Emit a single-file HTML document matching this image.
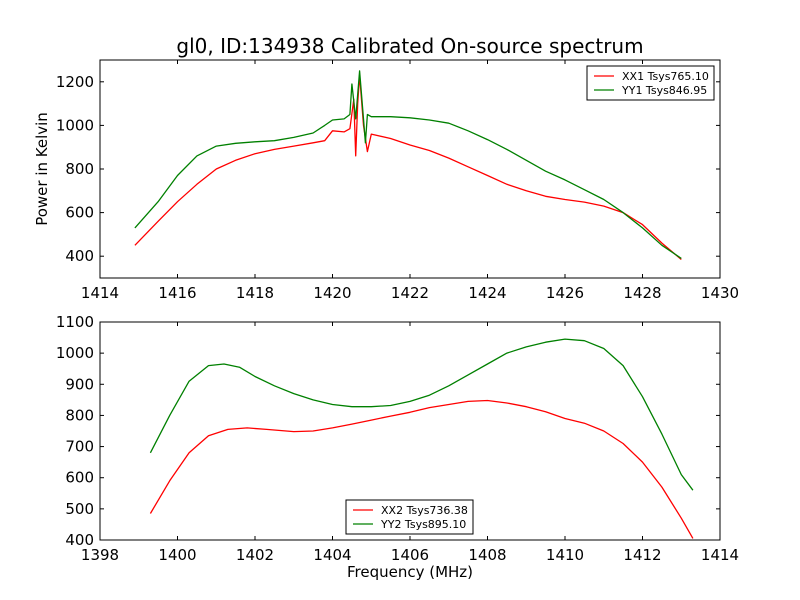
<!DOCTYPE html>
<html><head><meta charset="utf-8"><style>
body{margin:0;background:#fff}
svg{display:block;font-family:"DejaVu Sans","Liberation Sans",sans-serif}
</style></head><body>
<svg id="c" width="800" height="600"></svg>
<script>
const topXX=[[1414.9,450],[1415.5,560],[1416,650],[1416.5,730],[1417,800],[1417.5,840],[1418,870],[1418.5,890],[1419,905],[1419.5,920],[1419.8,930],[1420,975],[1420.3,970],[1420.45,985],[1420.55,1120],[1420.6,860],[1420.65,1100],[1420.7,1230],[1420.8,1000],[1420.9,880],[1421,960],[1421.5,940],[1422,910],[1422.5,885],[1423,850],[1423.5,810],[1424,770],[1424.5,730],[1425,700],[1425.5,675],[1426,660],[1426.5,648],[1427,630],[1427.5,600],[1428,545],[1428.5,460],[1429,385]];
const topYY=[[1414.9,530],[1415.5,650],[1416,770],[1416.5,860],[1417,905],[1417.5,918],[1418,925],[1418.5,930],[1419,945],[1419.5,965],[1419.8,1000],[1420,1025],[1420.3,1030],[1420.45,1050],[1420.5,1190],[1420.6,1030],[1420.7,1250],[1420.8,1030],[1420.85,920],[1420.9,1050],[1421,1040],[1421.5,1040],[1422,1035],[1422.5,1025],[1423,1010],[1423.5,975],[1424,935],[1424.5,890],[1425,840],[1425.5,790],[1426,750],[1426.5,705],[1427,660],[1427.5,600],[1428,530],[1428.5,450],[1429,390]];
const botXX=[[1399.3,485],[1399.8,590],[1400.3,680],[1400.8,735],[1401.3,755],[1401.8,760],[1402.3,755],[1403,748],[1403.5,750],[1404,760],[1404.5,772],[1405,785],[1405.5,798],[1406,810],[1406.5,825],[1407,835],[1407.5,845],[1408,848],[1408.5,840],[1409,828],[1409.5,812],[1410,790],[1410.5,775],[1411,750],[1411.5,710],[1412,650],[1412.5,570],[1413,470],[1413.3,405]];
const botYY=[[1399.3,680],[1399.8,800],[1400.3,910],[1400.8,960],[1401.2,965],[1401.6,955],[1402,925],[1402.5,895],[1403,870],[1403.5,850],[1404,835],[1404.5,828],[1405,828],[1405.5,832],[1406,845],[1406.5,865],[1407,895],[1407.5,930],[1408,965],[1408.5,1000],[1409,1020],[1409.5,1035],[1410,1045],[1410.5,1040],[1411,1015],[1411.5,960],[1412,860],[1412.5,740],[1413,610],[1413.3,560]];
const topXTicks=[1414,1416,1418,1420,1422,1424,1426,1428,1430];
const topYTicks=[400,600,800,1000,1200];
const botXTicks=[1398,1400,1402,1404,1406,1408,1410,1412,1414];
const botYTicks=[400,500,600,700,800,900,1000,1100];
const NS="http://www.w3.org/2000/svg";
const svg=document.getElementById('c');
function el(t,a,p){const e=document.createElementNS(NS,t);for(const k in a)e.setAttribute(k,a[k]);(p||svg).appendChild(e);return e;}
function panel(name,L,T,R,B,x0,x1,y0,y1,xt,yt,s1,s2,n1,n2,leg){
 const g=el('g',{});
 
 
 const X=v=>L+(v-x0)/(x1-x0)*(R-L), Y=v=>B-(v-y0)/(y1-y0)*(B-T);
 const draw=(d,c,nm)=>{const p=el('polyline',{points:d.map(q=>X(q[0]).toFixed(1)+','+Y(q[1]).toFixed(1)).join(' '),fill:'none',stroke:c,'stroke-width':1.3,'stroke-linejoin':'round'},g);
  };
 draw(s1,'#ff0000',n1+'-line');draw(s2,'#008000',n2+'-line');
 el('rect',{x:L,y:T,width:R-L,height:B-T,fill:'none',stroke:'#000','stroke-width':1},g);
 xt.forEach(v=>{const x=X(v);el('line',{x1:x,x2:x,y1:B,y2:B-4,stroke:'#000'},g);el('line',{x1:x,x2:x,y1:T,y2:T+4,stroke:'#000'},g);
  const t=el('text',{x:x,y:B+20,'text-anchor':'middle','font-size':15},g);t.textContent=v;
  });
 yt.forEach(v=>{const y=Y(v);el('line',{x1:L,x2:L+4,y1:y,y2:y,stroke:'#000'},g);el('line',{x1:R,x2:R-4,y1:y,y2:y,stroke:'#000'},g);
  const t=el('text',{x:L-6,y:y+5,'text-anchor':'end','font-size':15},g);t.textContent=v;
  });
 const lg=el('g',{},g);
 el('rect',{x:leg[0],y:leg[1],width:leg[2],height:34,fill:'#fff',stroke:'#000'},lg);
 [[n1,'#ff0000'],[n2,'#008000']].forEach((e,i)=>{const yy=leg[1]+10+i*14;
  el('line',{x1:leg[0]+7,x2:leg[0]+27,y1:yy,y2:yy,stroke:e[1],'stroke-width':1.3},lg);
  const t=el('text',{x:leg[0]+35,y:yy+4,'font-size':11},lg);t.textContent=e[0];
  });
}
panel('top-panel',100,60,720,278,1414,1430,300,1300,topXTicks,topYTicks,topXX,topYY,'XX1 Tsys765.10','YY1 Tsys846.95',[587,66,127]);
panel('bottom-panel',100,322,720,540,1398,1414,400,1100,botXTicks,botYTicks,botXX,botYY,'XX2 Tsys736.38','YY2 Tsys895.10',[346,500,127]);
let t=el('text',{x:410,y:53,'text-anchor':'middle','font-size':20});t.textContent='gl0, ID:134938 Calibrated On-source spectrum';

t=el('text',{x:0,y:0,'text-anchor':'middle','font-size':15,transform:'translate(47,169) rotate(-90)'});t.textContent='Power in Kelvin';

t=el('text',{x:410,y:577,'text-anchor':'middle','font-size':15});t.textContent='Frequency (MHz)';

</script>
</body></html>
